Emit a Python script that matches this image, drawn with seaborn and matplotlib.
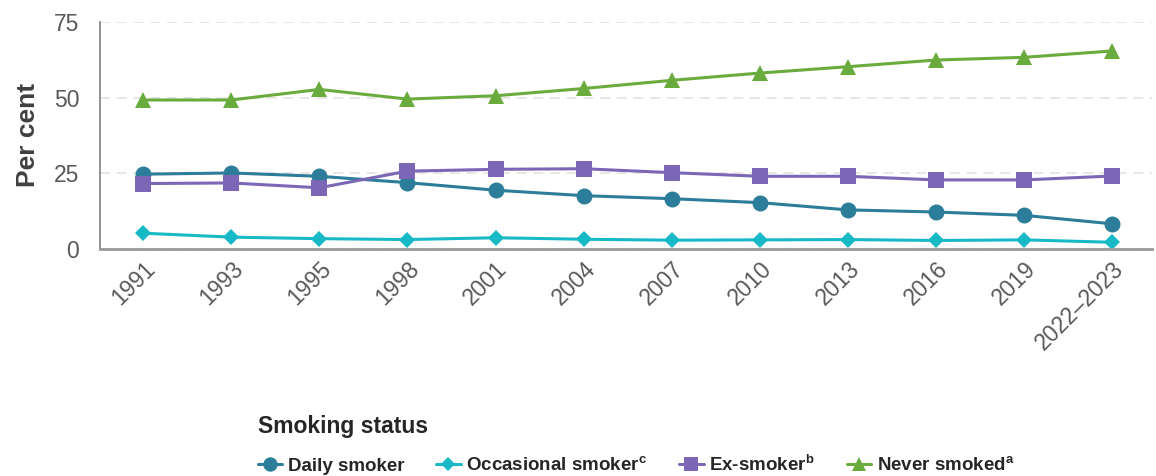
import matplotlib
matplotlib.use("Agg")
import matplotlib.pyplot as plt
import pandas as pd
import seaborn as sns

# data
years = ["1991", "1993", "1995", "1998", "2001", "2004", "2007",
         "2010", "2013", "2016", "2019", "2022\u20132023"]
daily = [24.7, 25.1, 24.0, 21.9, 19.4, 17.6, 16.6, 15.3, 12.9, 12.2, 11.1, 8.3]
occasional = [5.2, 3.9, 3.4, 3.1, 3.7, 3.2, 2.9, 3.0, 3.1, 2.8, 3.0, 2.2]
ex_smoker = [21.6, 21.8, 20.2, 25.7, 26.3, 26.5, 25.2, 24.0, 24.0, 22.8, 22.8, 24.1]
never = [49.2, 49.2, 52.7, 49.5, 50.6, 53.0, 55.7, 58.1, 60.2, 62.4, 63.3, 65.4]

series = ["Daily smoker", "Occasional smoker", "Ex-smoker", "Never smoked"]
legend_labels = [r"Daily smoker", r"Occasional smoker$^{\mathbf{c}}$",
                 r"Ex-smoker$^{\mathbf{b}}$", r"Never smoked$^{\mathbf{a}}$"]
colors = ["#2b7d99", "#17b9c7", "#7b67b6", "#6aab3e"]
markers = ["o", "D", "s", "^"]
sizes = [11.5, 8, 11, 11]

sns.set_style("white")
plt.rcParams["font.family"] = ["Liberation Sans", "DejaVu Sans"]
plt.rcParams["mathtext.fontset"] = "custom"
plt.rcParams["mathtext.rm"] = "Liberation Sans"
plt.rcParams["mathtext.bf"] = "Liberation Sans:bold"


def main():
    df = pd.DataFrame({
        "year": years * 4,
        "value": daily + occasional + ex_smoker + never,
        "status": sum([[s] * len(years) for s in series], []),
    })

    fig = plt.figure(figsize=(11.56, 4.76), dpi=100)
    ax = fig.add_axes([0.0865, 0.477, 0.91, 0.477])

    sns.lineplot(data=df, x="year", y="value", hue="status", style="status",
                 hue_order=series, style_order=series,
                 palette=dict(zip(series, colors)),
                 markers=dict(zip(series, markers)), dashes=False,
                 sort=False, linewidth=2.2, markersize=11,
                 markeredgewidth=0, ax=ax)

    # diamond a bit smaller
    for line, ms in zip(ax.lines, sizes):
        line.set_markersize(ms)

    ax.set_ylim(0, 75)
    ax.set_xlim(-0.49, 11.45)
    ax.set_yticks([0, 25, 50, 75])
    ax.yaxis.grid(True, linestyle=(0, (6, 4)), color="#e3e3e3", linewidth=1.2)
    ax.xaxis.grid(False)
    for s in ["top", "right"]:
        ax.spines[s].set_visible(False)
    ax.spines["left"].set_color("#7f7f7f")
    ax.spines["left"].set_linewidth(1.2)
    ax.spines["bottom"].set_color("#999999")
    ax.spines["bottom"].set_linewidth(2)
    ax.tick_params(axis="both", length=0, labelsize=16.5, labelcolor="#595959")
    ax.tick_params(axis="y", pad=15)
    ax.tick_params(axis="x", pad=6)
    plt.setp(ax.get_xticklabels(), rotation=45, ha="right",
             rotation_mode="anchor")
    ax.set_xlabel("")
    ax.set_ylabel("Per cent", fontsize=19, fontweight="bold",
                  color="#404040", labelpad=10)

    leg = ax.get_legend()
    handles = list(leg.legend_handles)
    leg.remove()
    for h, ms in zip(handles, sizes):
        h.set_markersize(ms * 0.9)

    fig.legend(handles, legend_labels, title="Smoking status",
               loc="upper left", bbox_to_anchor=(0.215, 0.148),
               ncol=4, frameon=False, alignment="left",
               prop={"size": 13.5, "weight": "bold"},
               title_fontproperties={"size": 16.5, "weight": "bold"},
               labelcolor="#262626", handlelength=1.3, handletextpad=0.3,
               columnspacing=1.7, labelspacing=0.85, borderpad=0)

    plt.savefig("out.png", dpi=100)


if __name__ == "__main__":
    main()
